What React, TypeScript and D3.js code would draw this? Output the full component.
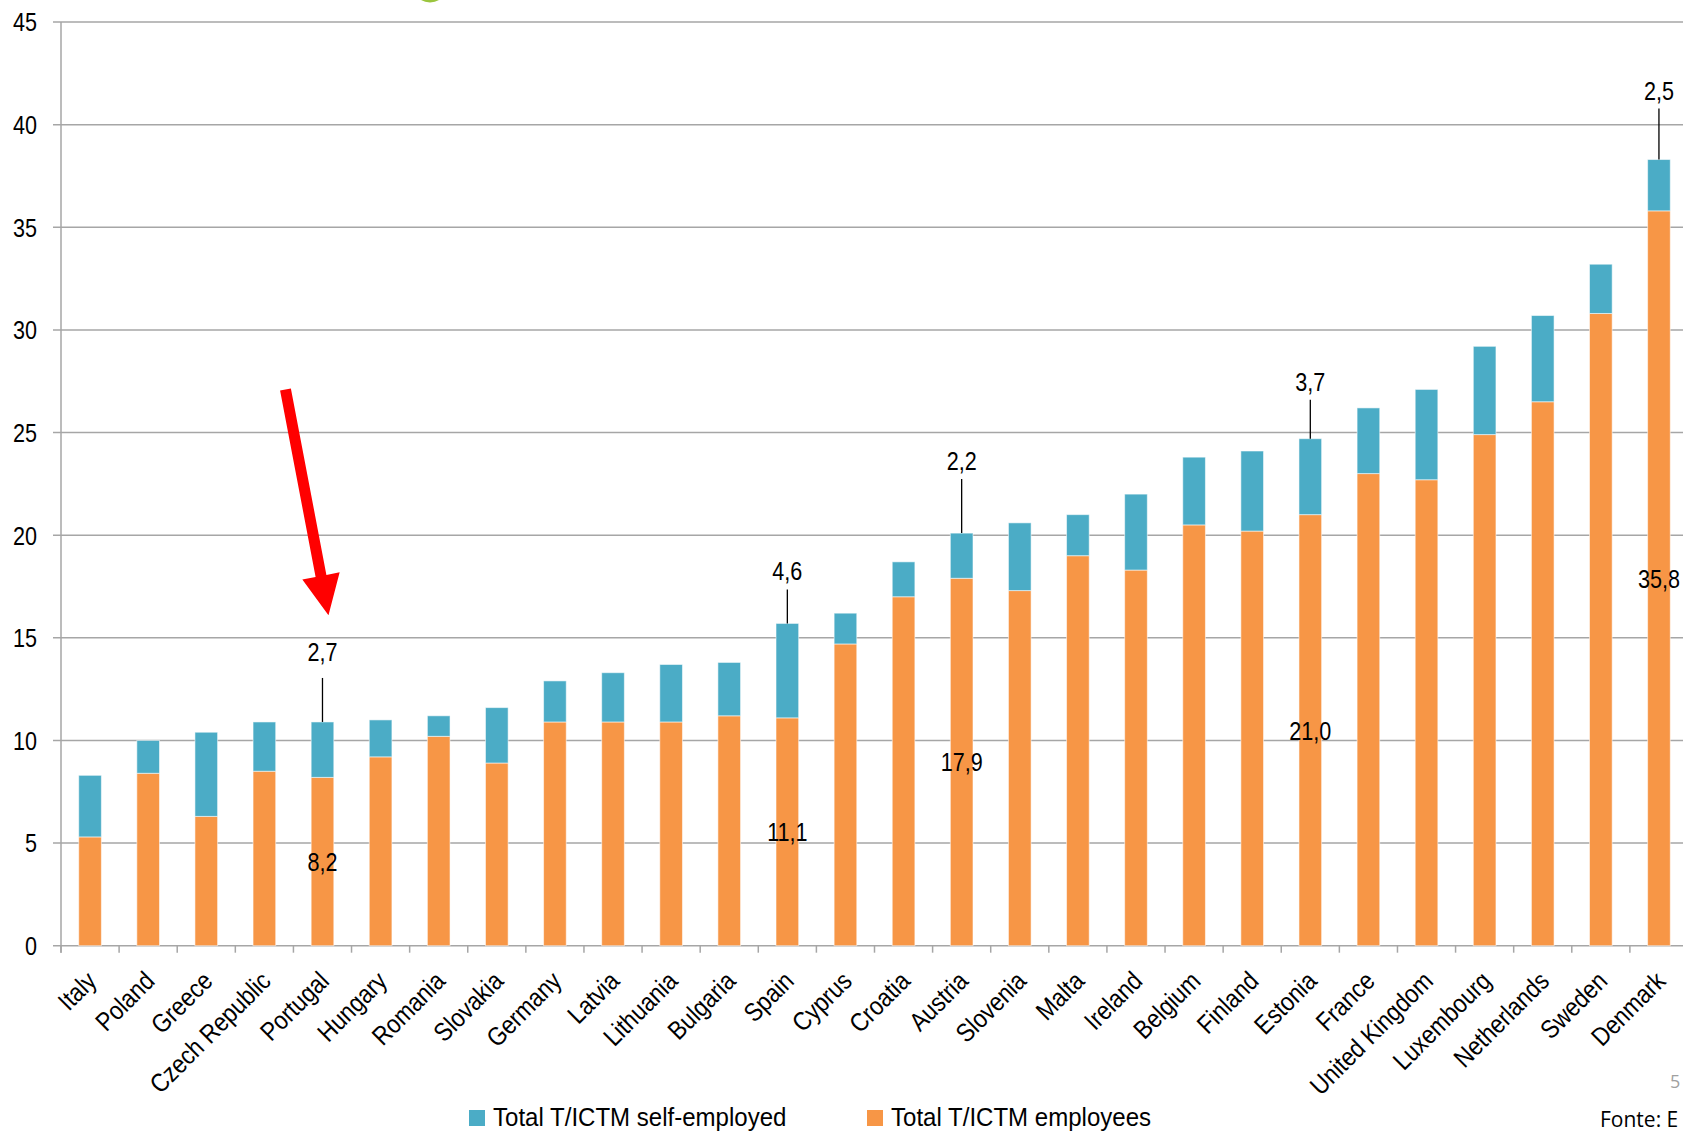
import React, { useEffect, useRef } from 'react';
import * as d3 from 'd3';

const countries = [
  'Italy', 'Poland', 'Greece', 'Czech Republic', 'Portugal', 'Hungary', 'Romania',
  'Slovakia', 'Germany', 'Latvia', 'Lithuania', 'Bulgaria', 'Spain', 'Cyprus',
  'Croatia', 'Austria', 'Slovenia', 'Malta', 'Ireland', 'Belgium', 'Finland',
  'Estonia', 'France', 'United Kingdom', 'Luxembourg', 'Netherlands', 'Sweden', 'Denmark'
];

const employees = [
  5.3, 8.4, 6.3, 8.5, 8.2, 9.2, 10.2, 8.9, 10.9, 10.9, 10.9, 11.2, 11.1, 14.7,
  17.0, 17.9, 17.3, 19.0, 18.3, 20.5, 20.2, 21.0, 23.0, 22.7, 24.9, 26.5, 30.8, 35.8
];

const selfEmployed = [
  3.0, 1.6, 4.1, 2.4, 2.7, 1.8, 1.0, 2.7, 2.0, 2.4, 2.8, 2.6, 4.6, 1.5,
  1.7, 2.2, 3.3, 2.0, 3.7, 3.3, 3.9, 3.7, 3.2, 4.4, 4.3, 4.2, 2.4, 2.5
];

const yTicks = [0, 5, 10, 15, 20, 25, 30, 35, 40, 45];

// countries whose values are written on the chart
const callouts = ['Portugal', 'Spain', 'Austria', 'Estonia', 'Denmark'];
// length of the leader line above each of those bars (px)
const calloutLines = [44, 34, 54, 39, 51];

const seriesNames = ['Total T/ICTM self-employed', 'Total T/ICTM employees'];

const BLUE = '#4bacc6';
const ORANGE = '#f79646';
const FONT = '"Liberation Sans", Arial, sans-serif';
// no narrow font installed, so squeeze the regular one
const NARROW = 0.83;

const fmt = (v: number) => v.toFixed(1).replace('.', ',');

const App: React.FC = () => {
  const ref = useRef<SVGSVGElement>(null);

  useEffect(() => {
    if (!ref.current) return;
    const W = 1683;
    const H = 1132;
    const svg = d3.select(ref.current);
    svg.selectAll('*').remove();
    svg.attr('width', W).attr('height', H);

    const x = d3.scaleBand<string>()
      .domain(countries)
      .range([61, 1688])
      .paddingInner(0.61)
      .paddingOuter(0.305);
    const step = x.step();
    const left = 61;

    const y = d3.scaleLinear().domain([0, 45]).range([945.7, 22]);

    // gridlines
    svg.append('g')
      .selectAll('line')
      .data(yTicks)
      .enter()
      .append('line')
      .attr('x1', left - 8)
      .attr('x2', W)
      .attr('y1', d => y(d))
      .attr('y2', d => y(d))
      .attr('stroke', '#a6a6a6')
      .attr('stroke-width', 1.5);

    // y axis line
    svg.append('line')
      .attr('x1', left).attr('x2', left)
      .attr('y1', y(45)).attr('y2', y(0) + 7)
      .attr('stroke', '#a6a6a6')
      .attr('stroke-width', 1.5);

    // y tick labels
    svg.append('g')
      .selectAll('text')
      .data(yTicks)
      .enter()
      .append('text')
      .attr('transform', d => `translate(37,${y(d)}) scale(${NARROW},1)`)
      .attr('dy', '0.36em')
      .attr('text-anchor', 'end')
      .style('font-family', FONT)
      .style('font-size', '26px')
      .text(d => d);

    // x ticks at category boundaries
    svg.append('g')
      .selectAll('line')
      .data(d3.range(countries.length + 1))
      .enter()
      .append('line')
      .attr('x1', i => left + i * step)
      .attr('x2', i => left + i * step)
      .attr('y1', y(0))
      .attr('y2', y(0) + 7)
      .attr('stroke', '#a6a6a6')
      .attr('stroke-width', 1.5);

    // x labels
    svg.append('g')
      .selectAll('text')
      .data(countries)
      .enter()
      .append('text')
      .attr('transform', d => `translate(${(x(d) as number) + x.bandwidth() / 2 + 8},${y(0) + 37}) rotate(-45) scale(0.87,1)`)
      .attr('text-anchor', 'end')
      .style('font-family', FONT)
      .style('font-size', '26px')
      .text(d => d);

    // stacked bars
    const bars = svg.append('g');
    countries.forEach((c, i) => {
      const bx = x(c) as number;
      bars.append('rect')
        .attr('x', bx)
        .attr('y', y(employees[i]))
        .attr('width', x.bandwidth())
        .attr('height', y(0) - y(employees[i]))
        .attr('fill', ORANGE)
        .attr('stroke', 'rgba(255,255,255,0.55)')
        .attr('stroke-width', 1);
      bars.append('rect')
        .attr('x', bx)
        .attr('y', y(employees[i] + selfEmployed[i]))
        .attr('width', x.bandwidth())
        .attr('height', y(employees[i]) - y(employees[i] + selfEmployed[i]))
        .attr('fill', BLUE)
        .attr('stroke', 'rgba(255,255,255,0.55)')
        .attr('stroke-width', 1);
    });

    // value callouts
    const ann = svg.append('g');
    callouts.forEach((c, k) => {
      const i = countries.indexOf(c);
      const cx = (x(c) as number) + x.bandwidth() / 2;
      const top = y(employees[i] + selfEmployed[i]);
      const len = calloutLines[k];
      ann.append('line')
        .attr('x1', cx).attr('x2', cx)
        .attr('y1', top - len).attr('y2', top)
        .attr('stroke', '#000')
        .attr('stroke-width', 1.3);
      ann.append('text')
        .attr('transform', `translate(${cx},${top - len - (c === 'Portugal' ? 17 : 9)}) scale(${NARROW},1)`)
        .attr('text-anchor', 'middle')
        .style('font-family', FONT)
        .style('font-size', '26px')
        .text(fmt(selfEmployed[i]));
      ann.append('text')
        .attr('transform', `translate(${cx},${y(employees[i] / 2)}) scale(${NARROW},1)`)
        .attr('dy', '0.36em')
        .attr('text-anchor', 'middle')
        .style('font-family', FONT)
        .style('font-size', '26px')
        .text(fmt(employees[i]));
    });

    // red arrow pointing at Portugal
    const pcx = (x('Portugal') as number) + x.bandwidth() / 2;
    const tip: [number, number] = [pcx + 6, y(16.1)];
    const tail: [number, number] = [pcx - 37, y(27.1)];
    const dx = tip[0] - tail[0];
    const dy = tip[1] - tail[1];
    const L = Math.hypot(dx, dy);
    const u = [dx / L, dy / L];
    const n = [-u[1], u[0]];
    const base = [tip[0] - 40 * u[0], tip[1] - 40 * u[1]];
    const sw = 5.5;
    const hw = 19;
    const pts = [
      [tail[0] + n[0] * sw, tail[1] + n[1] * sw],
      [base[0] + n[0] * sw, base[1] + n[1] * sw],
      [base[0] + n[0] * hw, base[1] + n[1] * hw],
      tip,
      [base[0] - n[0] * hw, base[1] - n[1] * hw],
      [base[0] - n[0] * sw, base[1] - n[1] * sw],
      [tail[0] - n[0] * sw, tail[1] - n[1] * sw]
    ];
    svg.append('path')
      .attr('d', d3.line()(pts as [number, number][]) + 'Z')
      .attr('fill', '#ff0000');

    // green logo edge at the top
    svg.append('ellipse')
      .attr('cx', 430).attr('cy', -10).attr('rx', 15).attr('ry', 12.5)
      .attr('fill', '#9bc53d');

    // legend
    const legend = svg.append('g');
    const legendX = [469, 867];
    [BLUE, ORANGE].forEach((col, k) => {
      legend.append('rect')
        .attr('x', legendX[k]).attr('y', 1110)
        .attr('width', 16).attr('height', 16)
        .attr('fill', col);
      legend.append('text')
        .attr('transform', `translate(${legendX[k] + 24},1126) scale(0.925,1)`)
        .style('font-family', FONT)
        .style('font-size', '26px')
        .text(seriesNames[k]);
    });

    // source + page number
    svg.append('text')
      .attr('x', 1600).attr('y', 1127)
      .style('font-family', '"Open Sans", "Liberation Sans", sans-serif')
      .style('font-size', '21px')
      .attr('fill', '#000')
      .text('Fonte: E');
    svg.append('text')
      .attr('x', 1670).attr('y', 1088)
      .style('font-family', '"Open Sans", "Liberation Sans", sans-serif')
      .style('font-size', '18px')
      .attr('fill', '#a0a0a0')
      .text('5');
  }, []);

  return (
    <div style={{ position: 'absolute', left: 0, top: 0, width: 1683, height: 1132, overflow: 'hidden', background: '#fff' }}>
      <svg ref={ref} style={{ display: 'block' }}></svg>
    </div>
  );
};

export default App;
